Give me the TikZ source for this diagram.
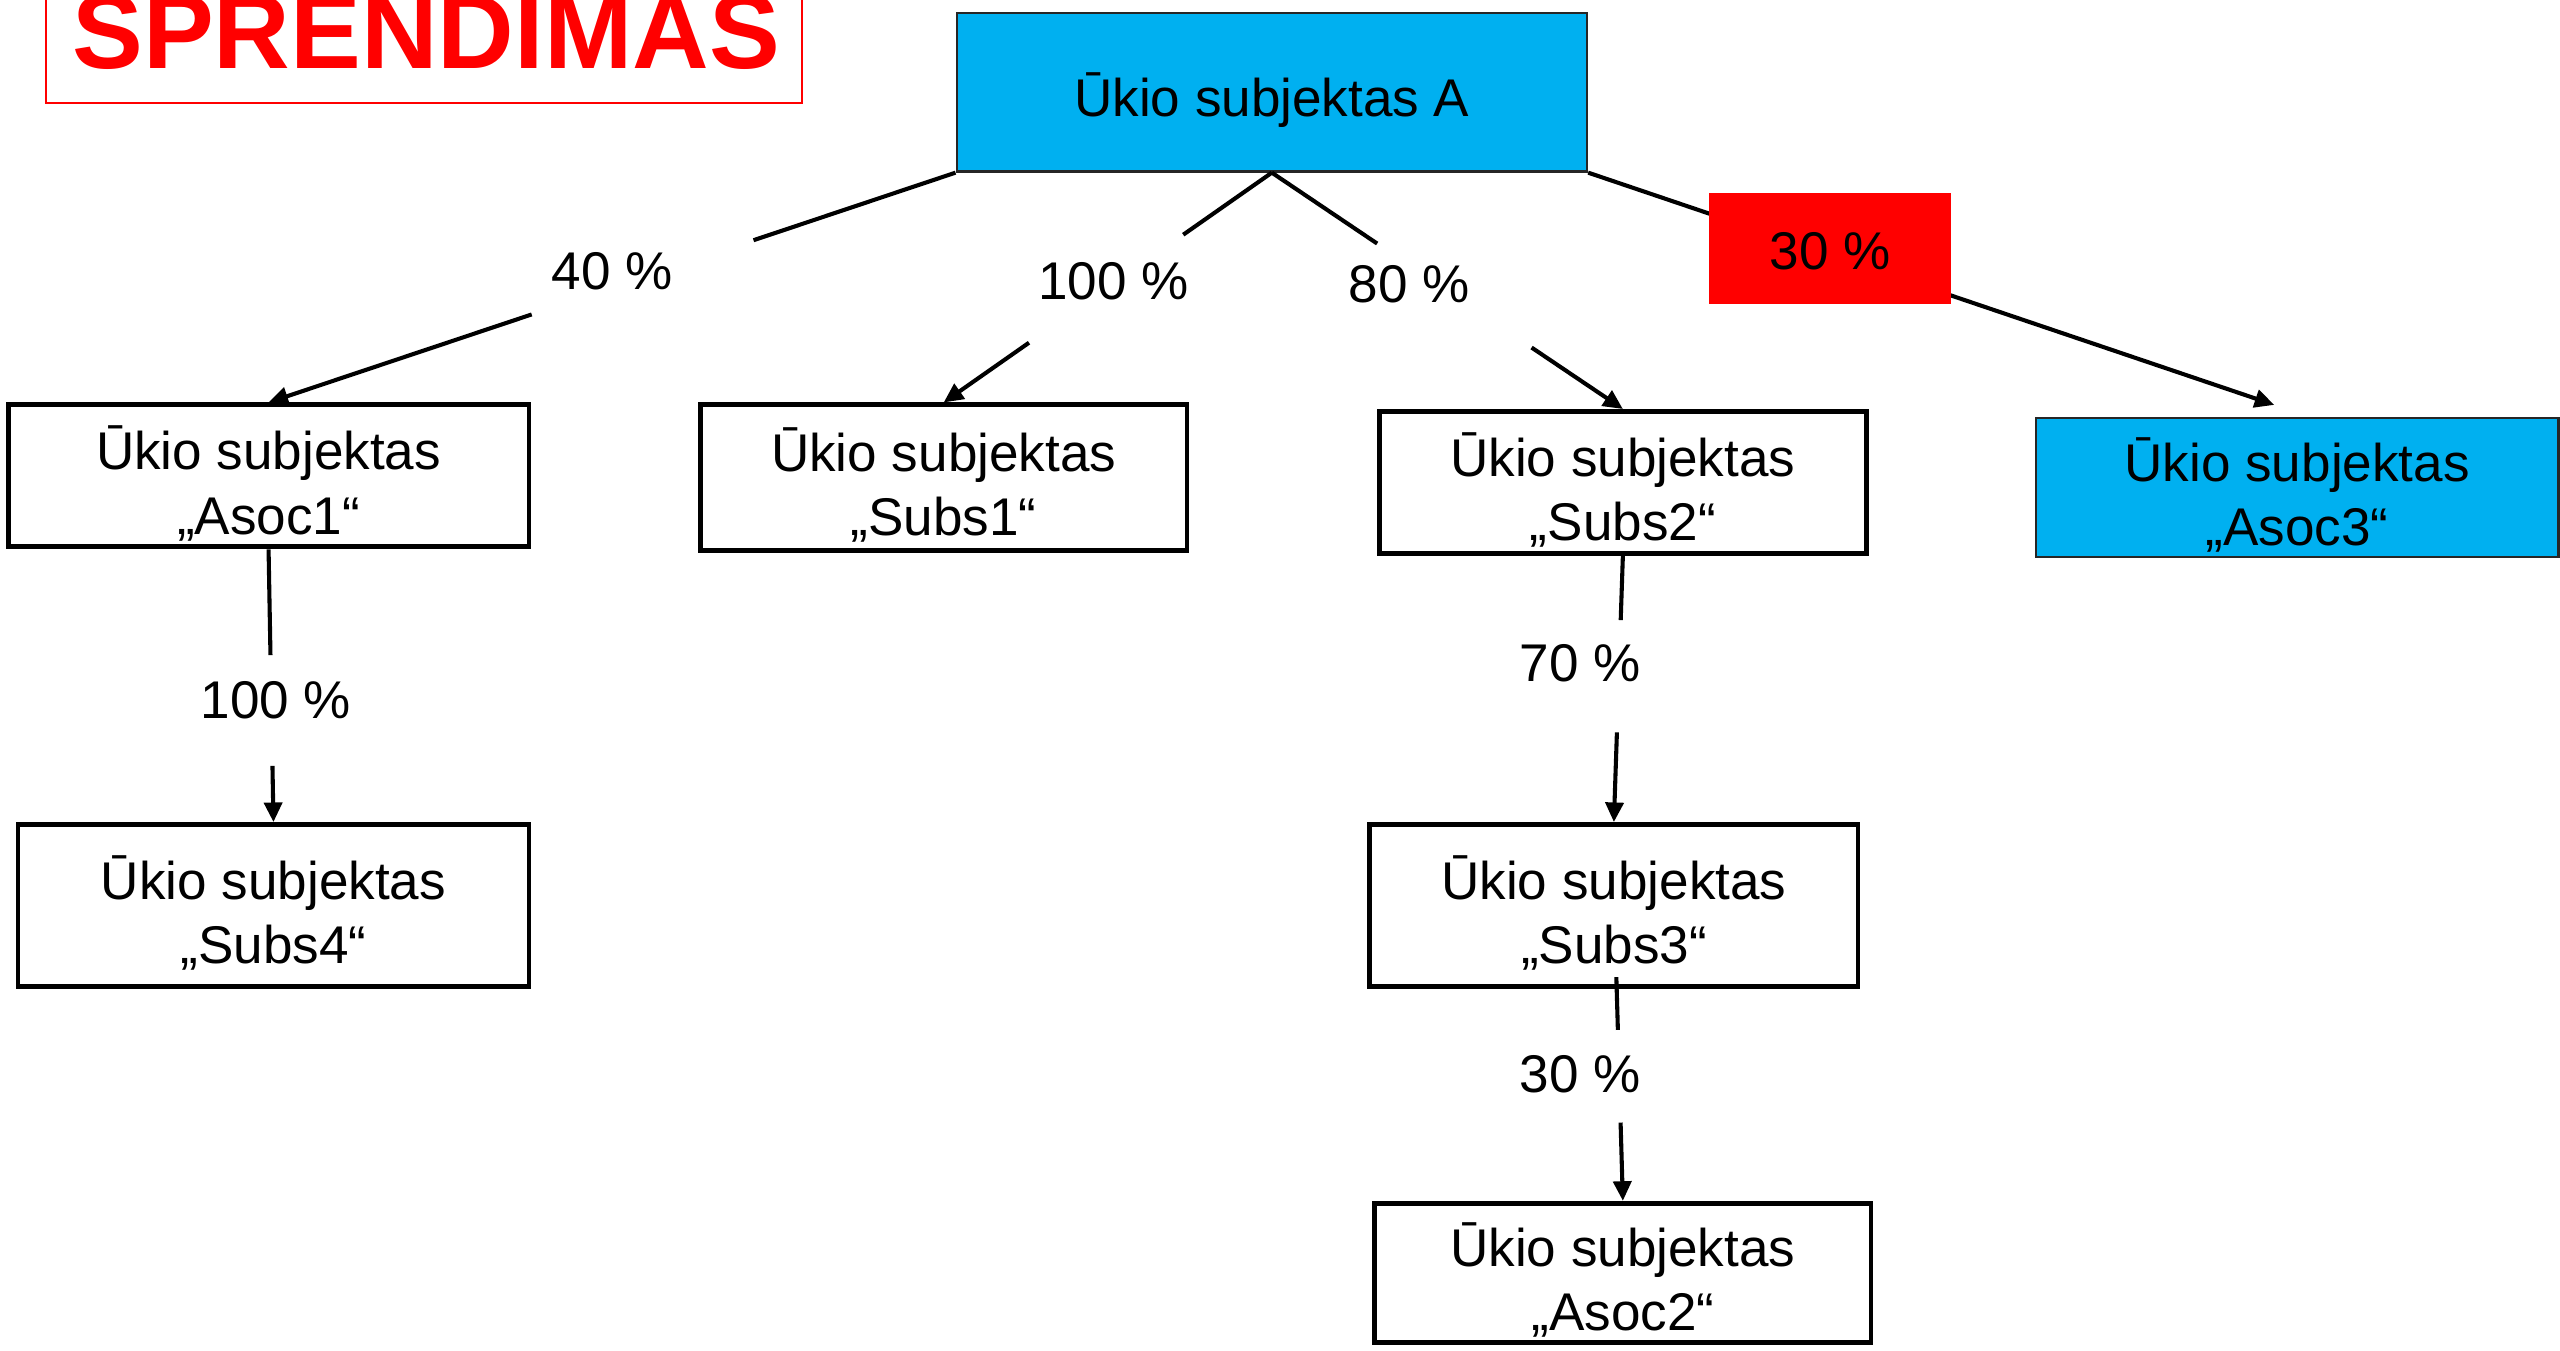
\documentclass[tikz,border=0pt]{standalone}
\usepackage{fontspec}
\setmainfont{Liberation Sans}
\usetikzlibrary{arrows.meta,calc}
\definecolor{cyanbox}{RGB}{0,176,240}
\newcommand\tstrut{\rule{0pt}{36pt}}
\begin{document}
\begin{tikzpicture}[x=1pt,y=-1pt,
  txt/.style={font=\fontsize{32.5}{39.5}\selectfont},
  boxtext/.style={txt, align=center, inner sep=0pt},
  wbox/.style={boxtext, draw=black, line width=3pt, fill=white},
  bbox/.style={boxtext, draw=black!85, line width=1.5pt, fill=cyanbox},
  lbl/.style={txt, inner sep=0pt},
  conn/.style={line width=2.5pt, black},
  arr/.style={conn, -{Triangle[length=12pt,width=11pt]}}]
\useasboundingbox (0,0) rectangle (1568,827);
% title
\node[draw=red, line width=1.2pt, minimum width=463pt, minimum height=103pt, inner sep=0pt] (titlebox) at (259.5,11.5) {};
\node[anchor=base, text=red, inner sep=0pt, font=\fontsize{65}{70}\selectfont\bfseries] (title) at (261,42) {SPRENDIMAS};
% nodes
\node[bbox, minimum width=386pt, minimum height=97pt] (A) at (779,56.5) {\tstrut Ūkio subjektas A};
\node[wbox, minimum width=319pt, minimum height=87pt] (asoc1) at (164.5,291.5) {\tstrut Ūkio subjektas\\„Asoc1“};
\node[wbox, minimum width=298pt, minimum height=89pt] (subs1) at (578,292.5) {\tstrut Ūkio subjektas\\„Subs1“};
\node[wbox, minimum width=298pt, minimum height=87pt] (subs2) at (994,295.5) {\tstrut Ūkio subjektas\\„Subs2“};
\node[bbox, minimum width=320pt, minimum height=85pt] (asoc3) at (1407,298.5) {\tstrut Ūkio subjektas\\„Asoc3“};
\node[wbox, minimum width=313pt, minimum height=99pt] (subs4) at (167.5,554.5) {\tstrut Ūkio subjektas\\„Subs4“};
\node[wbox, minimum width=299pt, minimum height=99pt] (subs3) at (988.5,554.5) {\tstrut Ūkio subjektas\\„Subs3“};
\node[wbox, minimum width=304pt, minimum height=85pt] (asoc2) at (994,779.5) {\tstrut Ūkio subjektas\\„Asoc2“};
% connectors
\coordinate (a3in) at (1393,248);
\draw[conn] (A.south west) -- ($(A.south west)!0.294!(asoc1.north)$);
\draw[arr] ($(A.south west)!0.617!(asoc1.north)$) -- (asoc1.north);
\draw[conn] (A.south) -- ($(A.south)!0.27!(subs1.north)$);
\draw[arr] ($(A.south)!0.74!(subs1.north)$) -- (subs1.north);
\draw[conn] (A.south) -- ($(A.south)!0.30!(subs2.north)$);
\draw[arr] ($(A.south)!0.74!(subs2.north)$) -- (subs2.north);
\draw[arr] (A.south east) -- (a3in);
\draw[conn] (asoc1.south) -- ($(asoc1.south)!0.388!(subs4.north)$);
\draw[arr] ($(asoc1.south)!0.794!(subs4.north)$) -- (subs4.north);
\draw[conn] (subs2.south) -- ($(subs2.south)!0.241!(subs3.north)$);
\draw[arr] ($(subs2.south)!0.663!(subs3.north)$) -- (subs3.north);
\coordinate (s3out) at ($(subs3.south)+(1.5,-7)$);
\draw[conn] (s3out) -- ($(s3out)!0.236!(asoc2.north)$);
\draw[arr] ($(s3out)!0.65!(asoc2.north)$) -- (asoc2.north);
% labels
\node[fill=red, minimum width=148pt, minimum height=68pt, txt, inner sep=0pt] (p30a) at (1121,152) {\rule{0pt}{26pt}30 \%};
\node[lbl] (p40) at (375,166) {40 \%};
\node[lbl] (p100a) at (682,172) {100 \%};
\node[lbl] (p80) at (863,174) {80 \%};
\node[lbl] (p100b) at (169,429) {100 \%};
\node[lbl] (p70) at (968,406) {70 \%};
\node[lbl] (p30b) at (968,658) {30 \%};
\end{tikzpicture}
\end{document}
